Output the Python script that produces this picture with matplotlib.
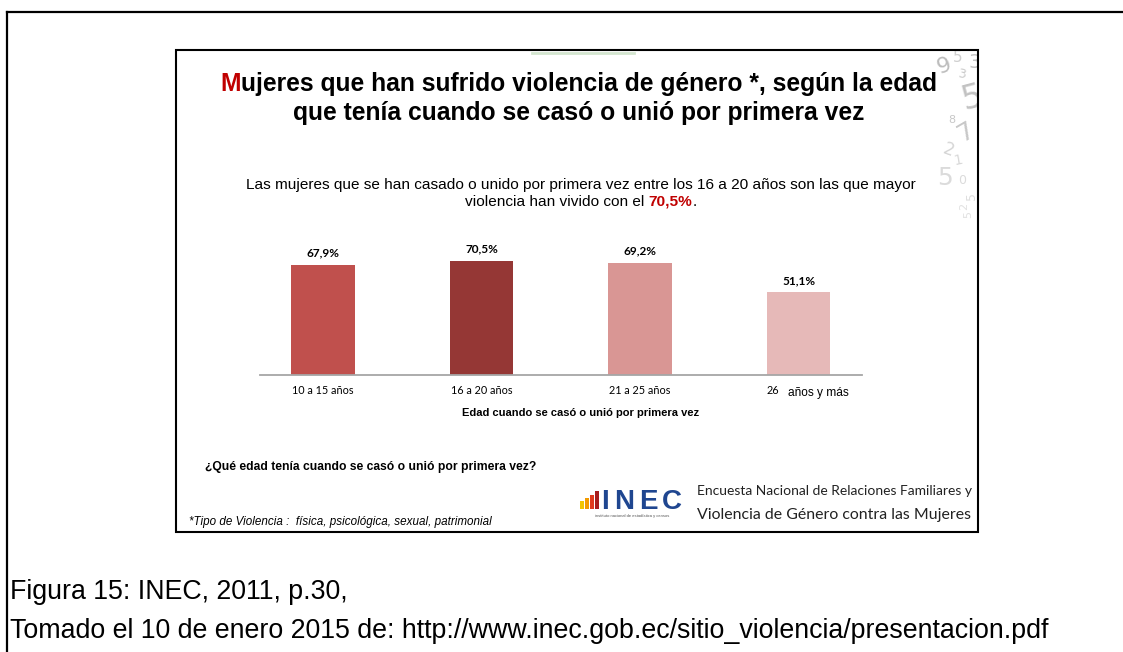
import matplotlib
matplotlib.use("Agg")
import matplotlib.pyplot as plt
from matplotlib.patches import Rectangle
from matplotlib.lines import Line2D
import matplotlib.transforms as mtransforms

# ---- data ----
categories = ["10 a 15 años", "16 a 20 años", "21 a 25 años", "26 años y más"]
values = [67.9, 70.5, 69.2, 51.1]
value_labels = ["67,9%", "70,5%", "69,2%", "51,1%"]
bar_colors = ["#C0504D", "#953735", "#D99694", "#E6B9B8"]

title_lines = ["Mujeres que han sufrido violencia de género *, según la edad",
               "que tenía cuando se casó o unió por primera vez"]
subtitle_line1 = "Las mujeres que se han casado o unido por primera vez entre los 16 a 20 años son las que mayor"
subtitle_line2 = ["violencia han vivido con el", "70,5%", "."]
xlabel = "Edad cuando se casó o unió por primera vez"
question = "¿Qué edad tenía cuando se casó o unió por primera vez?"
footnote = "*Tipo de Violencia :  física, psicológica, sexual, patrimonial"
logo_word = "INEC"
logo_subtitle = "instituto nacional de estadística y censos"
survey_line1 = "Encuesta Nacional de Relaciones Familiares y"
survey_line2 = "Violencia de Género contra las Mujeres"
caption1 = "Figura 15: INEC, 2011, p.30,"
caption2 = "Tomado el 10 de enero 2015 de: http://www.inec.gob.ec/sitio_violencia/presentacion.pdf"

W, H = 1123, 652
fig = plt.figure(figsize=(W / 100, H / 100), dpi=100)
fig.patch.set_facecolor("white")


def fx(px):
    return px / W


def fy(py):
    return 1 - py / H


SANS = "Liberation Sans"
HUMAN = "Lato"

renderer = fig.canvas.get_renderer()


def text_width(s, **kw):
    t = fig.text(0, 0, s, **kw)
    w = t.get_window_extent(renderer).width
    t.remove()
    return w


def runs_text(cx_px, cy_px, runs, size, family):
    """Draw several differently styled pieces on one centred line."""
    sp = text_width("x x", fontsize=size, family=family) - text_width("xx", fontsize=size, family=family)
    objs, widths = [], []
    for s, color, weight, gap in runs:
        t = fig.text(0, fy(cy_px), s, fontsize=size, family=family, color=color,
                     weight=weight, ha="left", va="baseline", zorder=3)
        objs.append(t)
        widths.append(t.get_window_extent(renderer).width + (sp if gap else 0))
    x = cx_px - sum(widths) / 2
    for t, w in zip(objs, widths):
        t.set_x(fx(x))
        x += w


# ---- outer frame of the page ----
fig.add_artist(Line2D([fx(6.5), 1], [fy(12), fy(12)], color="black", lw=1.6))
fig.add_artist(Line2D([fx(6.5), fx(6.5)], [fy(12), 0], color="black", lw=1.6))

# ---- slide box ----
box = Rectangle((fx(176), fy(532)), fx(978) - fx(176), fy(50) - fy(532),
                transform=fig.transFigure, fill=False, edgecolor="black", lw=1.5, zorder=5)
fig.add_artist(box)
fig.add_artist(Line2D([fx(532), fx(634)], [fy(52.5), fy(52.5)], color="#c9dfc3", lw=2, alpha=0.8))

# decorative digits in the upper right corner of the slide
clip_rect = Rectangle((fx(177), fy(531)), fx(977) - fx(177), fy(51) - fy(531),
                      transform=fig.transFigure, visible=False)
fig.add_artist(clip_rect)
digits = [("9", 944, 66, 16, 20, "#a0a0a0"), ("3", 962, 74, 9, -10, "#b4b4b4"),
          ("5", 972, 98, 24, 15, "#a8a8a8"), ("5", 958, 58, 11, 0, "#bcbcbc"),
          ("8", 952, 120, 8, 0, "#b0b0b0"), ("7", 966, 132, 18, 30, "#b0b0b0"),
          ("2", 948, 150, 12, -20, "#c4c4c4"), ("1", 958, 160, 10, 10, "#c8c8c8"),
          ("5", 945, 178, 18, 0, "#cccccc"), ("0", 962, 180, 9, 0, "#cccccc"),
          ("5", 972, 196, 9, 90, "#d0d0d0"), ("2", 964, 206, 8, 90, "#d4d4d4"),
          ("5", 968, 215, 8, 90, "#d4d4d4"), ("3", 975, 62, 14, 0, "#aaaaaa")]
for d, xp, yp, sz, rot, col in digits:
    t = fig.text(fx(xp), fy(yp), d, fontsize=sz, family="DejaVu Sans", color=col,
                 rotation=rot, ha="center", va="center", alpha=0.7, zorder=1)
    t.set_clip_path(clip_rect)

# ---- title ----
runs_text(579, 91, [("M", "#C00000", "bold", False), (title_lines[0][1:], "black", "bold", False)],
          17.7, SANS)
runs_text(579, 120, [(title_lines[1], "black", "bold", False)], 17.7, SANS)

# ---- subtitle ----
runs_text(581, 189, [(subtitle_line1, "black", "normal", False)], 11.1, SANS)
runs_text(581, 206, [(subtitle_line2[0], "black", "normal", True),
                     (subtitle_line2[1], "#C00000", "bold", False),
                     (subtitle_line2[2], "black", "normal", False)], 11.1, SANS)

# ---- bar chart ----
ax_left, ax_right, ax_bottom, ax_top = 260, 862, 375, 230
ax = fig.add_axes([fx(ax_left), fy(ax_bottom), fx(ax_right) - fx(ax_left), fy(ax_top) - fy(ax_bottom)])
xpos = list(range(len(categories)))
ax.bar(xpos, values, width=0.4, color=bar_colors, zorder=2)
ax.set_xlim(-0.3975, 3.4)
ax.set_ylim(0, 89.7)
for s in ("top", "left", "right"):
    ax.spines[s].set_visible(False)
ax.spines["bottom"].set_color("#a6a6a6")
ax.spines["bottom"].set_linewidth(1.3)
ax.set_yticks([])
ax.set_xticks(xpos)
ax.set_xticklabels(categories[:-1] + [""], fontsize=7.8, family=HUMAN, color="black")
ax.tick_params(axis="x", length=0, pad=7)
ax.patch.set_alpha(0)

# last category label: number and words set in different type
num, words = categories[-1].split(" ", 1)
trans = mtransforms.blended_transform_factory(ax.transData, ax.transAxes)
ax.text(xpos[-1] - 0.16, -0.11, num, transform=trans, fontsize=7.8, family=HUMAN,
        ha="center", va="center")
ax.text(xpos[-1] - 0.066, -0.125, words, transform=trans, fontsize=8.6, family=SANS,
        ha="left", va="center")

for xi, v, lab in zip(xpos, values, value_labels):
    ax.annotate(lab, (xi, v), xytext=(0, 8.6), textcoords="offset points",
                ha="center", va="center", fontsize=8.5, family=HUMAN, weight="bold")

ax.set_xlabel(xlabel, fontsize=8.0, family=SANS, weight="bold", va="center")
ax.xaxis.set_label_coords((581 - ax_left) / (ax_right - ax_left), (ax_bottom - 413) / (ax_bottom - ax_top))

# ---- question and footnote ----
fig.text(fx(205), fy(467), question, fontsize=8.7, family=SANS, weight="bold", ha="left", va="center")
fig.text(fx(189), fy(522), footnote, fontsize=8.4, family=SANS, style="italic", ha="left", va="center")

# ---- INEC logo ----
logo_bars = [(580, 501, "#F2C500"), (585, 498, "#F29A00"), (590, 495, "#E03A1E"),
             (595, 491, "#A81C1C")]
for xl, yt, col in logo_bars:
    fig.add_artist(Rectangle((fx(xl), fy(509)), fx(4), fy(yt) - fy(509),
                             transform=fig.transFigure, color=col, lw=0))
for ch, xc in zip(logo_word, [605, 624, 648, 672]):
    fig.text(fx(xc), fy(509), ch, fontsize=20, family=SANS, weight="bold", color="#1F4690",
             ha="center", va="baseline")
fig.text(fx(632), fy(516), logo_subtitle, fontsize=3, family=SANS, color="#555555",
         ha="center", va="center")

fig.text(fx(697), fy(495), survey_line1, fontsize=10, family=HUMAN, color="#222222",
         ha="left", va="baseline")
fig.text(fx(697), fy(519), survey_line2, fontsize=11.4, family=HUMAN, color="#222222",
         ha="left", va="baseline")

# ---- captions below the slide ----
fig.text(fx(10), fy(599), caption1, fontsize=19.3, family=SANS, ha="left", va="baseline")
fig.text(fx(10), fy(638), caption2, fontsize=19.3, family=SANS, ha="left", va="baseline")

fig.savefig("out.png", dpi=100, facecolor="white")
